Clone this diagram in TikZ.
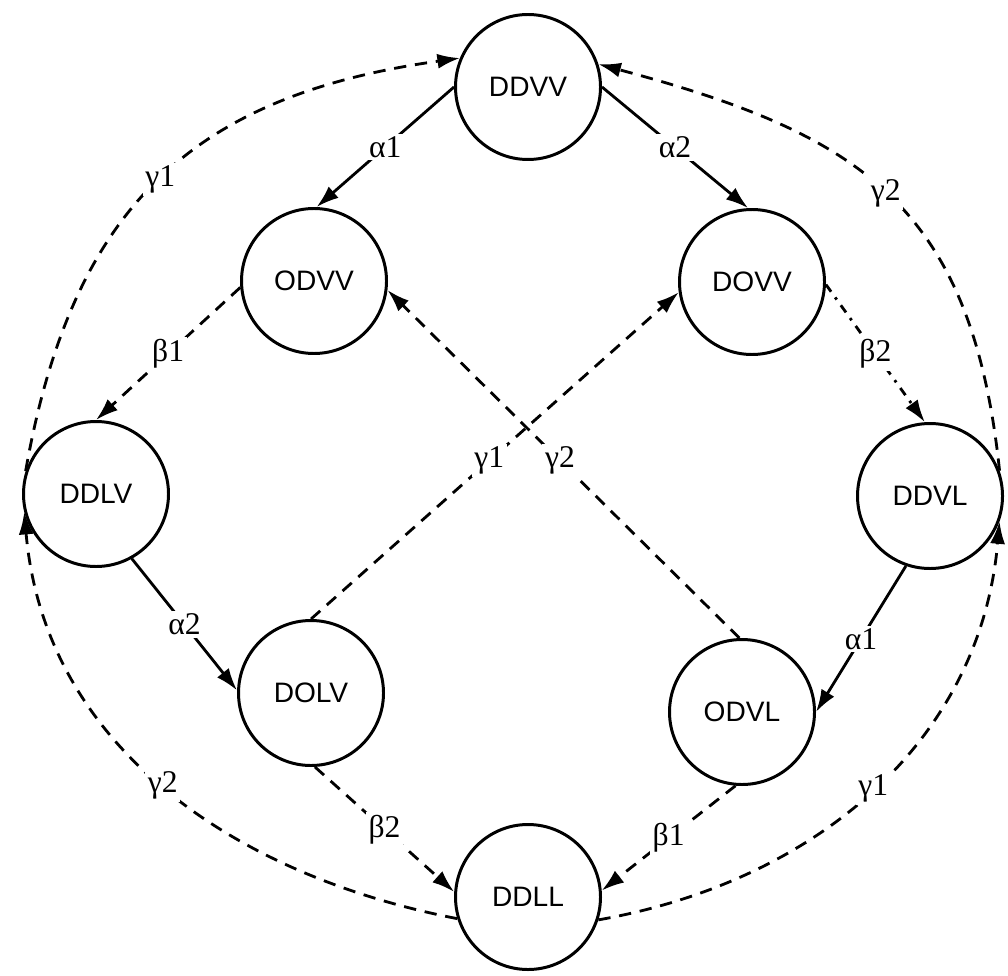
\documentclass[tikz,border=0pt]{standalone}
\usepackage{fontspec}
\setmainfont{Liberation Serif}
\newfontfamily\statefont{Liberation Sans}
\usepackage{tikz}
\usetikzlibrary{arrows.meta}
\tikzset{
  state/.style={circle, draw, line width=1.7pt, minimum size=2.9cm, inner sep=0pt,
    font=\statefont\fontsize{16}{18}\selectfont},
  lbl/.style={fill=white, inner sep=1.5pt, font=\fontsize{18}{20}\selectfont},
  trans/.style={line width=1.6pt, -{Latex[length=4.5mm,width=3mm]}},
  dtrans/.style={trans, dash pattern=on 7pt off 5pt},
  ddtrans/.style={trans, dash pattern=on 5pt off 4pt on 1.5pt off 4pt},
}

\begin{document}
\begin{tikzpicture}
      \useasboundingbox (0,0) rectangle (20.16,19.5);

      \node [state] (DDVV) at (10.56,17.76) {DDVV};
      \node [state] (ODVV) at (6.28,13.88) {ODVV};
      \node [state] (DOVV) at (15.04,13.86) {DOVV};
      \node [state] (DDLV) at (1.92,9.62) {DDLV};
      \node [state] (DDVL) at (18.60,9.58) {DDVL};
      \node [state] (DOLV) at (6.22,5.64) {DOLV};
      \node [state] (ODVL) at (14.84,5.26) {ODVL};
      \node [state] (DDLL) at (10.56,1.56) {DDLL};

      \draw [trans] (DDVV.180) -- node [lbl] {α1} (ODVV.88);
      \draw [trans] (DDVV.0) -- node [lbl] {α2} (DOVV.93);
      \draw [dtrans] (ODVV.185) -- node [lbl] {β1} (DDLV.90);
      \draw [ddtrans] (DOVV.-2) -- node [lbl] {β2} (DDVL.94);
      \draw [trans] (DDLV.-61) -- node [lbl] {α2} (DOLV.178);
      \draw [trans] (DDVL.251) -- node [lbl] {α1} (ODVL.0);
      \draw [dtrans] (DOLV.-87) -- node [lbl] {β2} (DDLL.176);
      \draw [dtrans] (ODVL.-95) -- node [lbl] {β1} (DDLL.5);

      \draw [dtrans] (DOLV.90) -- node [lbl, pos=0.485] {γ1} (DOVV.188);
      \draw [dtrans] (ODVL.92) -- node [lbl, pos=0.51] {γ2} (ODVV.-7);

      \draw [dtrans] (DDLV.162) to [out=80, in=188, looseness=1.15]
        node [lbl] {γ1} (DDVV.157);
      \draw [dtrans] (DDVL.20) to [out=96, in=-15, looseness=1.2]
        node [lbl] {γ2} (DDVV.18);
      \draw [dtrans] (DDLL.197) to [out=169, in=-85]
        node [lbl] {γ2} (DDLV.194);
      \draw [dtrans] (DDLL.-18) to [out=10, in=-95]
        node [lbl] {γ1} (DDVL.-20);
\end{tikzpicture}
\end{document}
